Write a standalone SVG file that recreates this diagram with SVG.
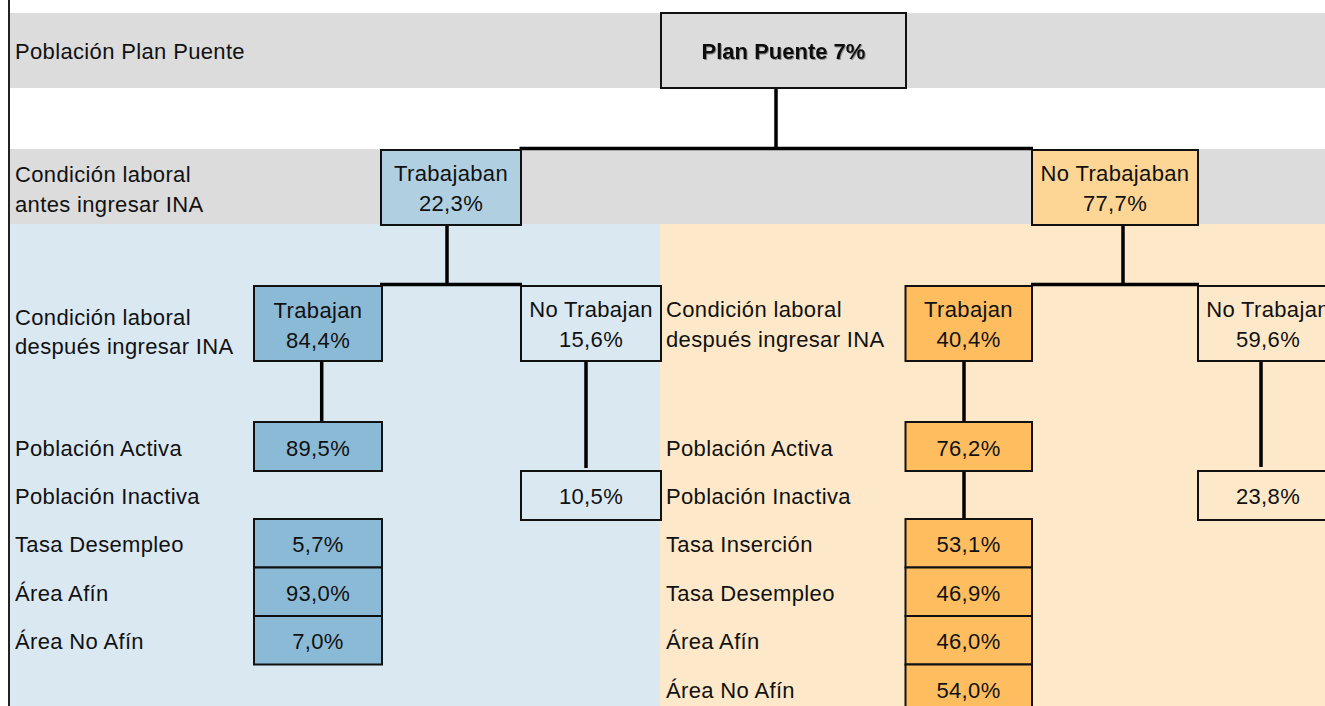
<svg xmlns="http://www.w3.org/2000/svg" width="1325" height="706" viewBox="0 0 1325 706">
<style>
  text { font-family: "Liberation Sans", Arial, sans-serif; font-size: 22px; fill: #111; letter-spacing: 0.35px; }
  .c { text-anchor: middle; }
  .b { font-weight: bold; letter-spacing: 0; }
  .box { stroke: #111; stroke-width: 2; }
  .conn { stroke: #000; stroke-width: 3.5; fill: none; }
  .gray { fill: #dcdcdc; }
  .lb { fill: #dae8f1; }
  .lo { fill: #fde9c9; }
  .blue1 { fill: #b0d0e2; }
  .blue2 { fill: #8bbad6; }
  .or1 { fill: #fdd595; }
  .or2 { fill: #febe60; }
</style>
<defs>
  <filter id="sh" x="-5%" y="-20%" width="110%" height="140%">
    <feDropShadow dx="1" dy="1" stdDeviation="0.6" flood-color="#000" flood-opacity="0.35"/>
  </filter>
</defs>

<g id="background">
  <rect x="0" y="0" width="1325" height="706" fill="#ffffff"/>
  <rect class="gray" x="10" y="13" width="1315" height="75"/>
  <rect class="gray" x="10" y="149" width="1315" height="75"/>
  <rect class="lb" x="10" y="224" width="650" height="482"/>
  <rect class="lo" x="660" y="224" width="665" height="482"/>
  <line x1="9" y1="0" x2="9" y2="706" stroke="#222" stroke-width="2"/>
</g>

<g id="row-labels">
  <text x="15" y="59">Población Plan Puente</text>
  <text x="15" y="182">Condición laboral</text>
  <text x="15" y="212">antes ingresar INA</text>
  <text x="15" y="325">Condición laboral</text>
  <text x="15" y="354">después ingresar INA</text>
  <text x="15" y="456">Población Activa</text>
  <text x="15" y="504">Población Inactiva</text>
  <text x="15" y="552">Tasa Desempleo</text>
  <text x="15" y="601">Área Afín</text>
  <text x="15" y="649">Área No Afín</text>
  <text x="666" y="317">Condición laboral</text>
  <text x="666" y="347">después ingresar INA</text>
  <text x="666" y="456">Población Activa</text>
  <text x="666" y="504">Población Inactiva</text>
  <text x="666" y="552">Tasa Inserción</text>
  <text x="666" y="601">Tasa Desempleo</text>
  <text x="666" y="649">Área Afín</text>
  <text x="666" y="698">Área No Afín</text>
</g>

<g id="connectors">
  <line class="conn" x1="776" y1="89" x2="776" y2="148.5"/>
  <line class="conn" x1="519.5" y1="148.5" x2="1033" y2="148.5"/>
  <line class="conn" x1="447" y1="226" x2="447" y2="284.5"/>
  <line class="conn" x1="380" y1="284.5" x2="522" y2="284.5"/>
  <line class="conn" x1="1123" y1="226" x2="1123" y2="284.5"/>
  <line class="conn" x1="1031" y1="284.5" x2="1199" y2="284.5"/>
  <line class="conn" x1="321.7" y1="361" x2="321.7" y2="422"/>
  <line class="conn" x1="586" y1="361" x2="586" y2="468"/>
  <line class="conn" x1="964" y1="361" x2="964" y2="422"/>
  <line class="conn" x1="964" y1="471" x2="964" y2="519"/>
  <line class="conn" x1="1261" y1="361" x2="1261" y2="467"/>
</g>

<g id="plan-puente">
  <rect class="box gray" x="661" y="13" width="245" height="75"/>
  <text class="c b" x="783.5" y="59" filter="url(#sh)">Plan Puente 7%</text>
</g>

<g id="trabajaban">
  <rect class="box blue1" x="381" y="150" width="140" height="75"/>
  <text class="c" x="451" y="181">Trabajaban</text>
  <text class="c" x="451" y="211">22,3%</text>
</g>

<g id="no-trabajaban">
  <rect class="box or1" x="1032" y="150" width="166" height="75"/>
  <text class="c" x="1115" y="181">No Trabajaban</text>
  <text class="c" x="1115" y="211">77,7%</text>
</g>

<g id="l-trabajan">
  <rect class="box blue2" x="254" y="286" width="128" height="75"/>
  <text class="c" x="318" y="318">Trabajan</text>
  <text class="c" x="318" y="347.5">84,4%</text>
</g>

<g id="l-no-trabajan">
  <rect class="box lb" x="521" y="286" width="140" height="75"/>
  <text class="c" x="591" y="317">No Trabajan</text>
  <text class="c" x="591" y="347">15,6%</text>
</g>

<g id="r-trabajan">
  <rect class="box or2" x="905.5" y="286" width="126.5" height="75"/>
  <text class="c" x="968.5" y="317">Trabajan</text>
  <text class="c" x="968.5" y="347">40,4%</text>
</g>

<g id="r-no-trabajan">
  <rect class="box lo" x="1198" y="286" width="140" height="75"/>
  <text class="c" x="1268" y="317">No Trabajan</text>
  <text class="c" x="1268" y="347">59,6%</text>
</g>

<g id="l-activa">
  <rect class="box blue2" x="254" y="422" width="128" height="49"/>
  <text class="c" x="318" y="456">89,5%</text>
</g>
<g id="l-inactiva">
  <rect class="box lb" x="521" y="471" width="140" height="49"/>
  <text class="c" x="591" y="504">10,5%</text>
</g>
<g id="l-desempleo">
  <rect class="box blue2" x="254" y="519" width="128" height="48.5"/>
  <text class="c" x="318" y="552">5,7%</text>
</g>
<g id="l-afin">
  <rect class="box blue2" x="254" y="567.5" width="128" height="48.5"/>
  <text class="c" x="318" y="601">93,0%</text>
</g>
<g id="l-no-afin">
  <rect class="box blue2" x="254" y="616" width="128" height="48.5"/>
  <text class="c" x="318" y="649">7,0%</text>
</g>

<g id="r-activa">
  <rect class="box or2" x="905.5" y="422" width="126.5" height="49"/>
  <text class="c" x="968.5" y="456">76,2%</text>
</g>
<g id="r-inactiva">
  <rect class="box lo" x="1198" y="471" width="140" height="49"/>
  <text class="c" x="1268" y="504">23,8%</text>
</g>
<g id="r-insercion">
  <rect class="box or2" x="905.5" y="519" width="126.5" height="48.5"/>
  <text class="c" x="968.5" y="552">53,1%</text>
</g>
<g id="r-desempleo">
  <rect class="box or2" x="905.5" y="567.5" width="126.5" height="48.5"/>
  <text class="c" x="968.5" y="601">46,9%</text>
</g>
<g id="r-afin">
  <rect class="box or2" x="905.5" y="616" width="126.5" height="48.5"/>
  <text class="c" x="968.5" y="649">46,0%</text>
</g>
<g id="r-no-afin">
  <rect class="box or2" x="905.5" y="664.5" width="126.5" height="60"/>
  <text class="c" x="968.5" y="698">54,0%</text>
</g>
</svg>
